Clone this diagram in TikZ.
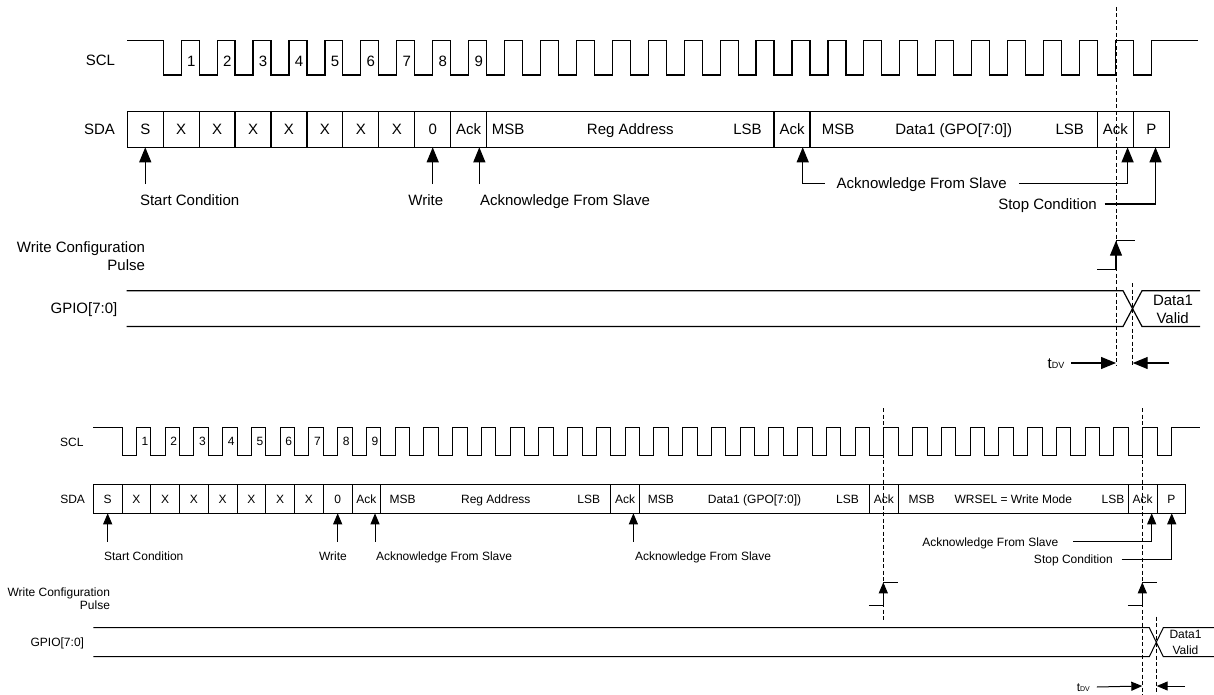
\documentclass[tikz,border=0pt]{standalone}
\usepackage{fontspec}
\setmainfont{Liberation Sans}
\usetikzlibrary{arrows.meta,positioning}

\tikzset{
  toptxt/.style={font=\fontsize{15}{17}\selectfont, inner sep=0pt, outer sep=0pt, text height=10.7pt, text depth=0pt},
  bottxt/.style={font=\fontsize{12}{14}\selectfont, inner sep=0pt, outer sep=0pt, text height=8.6pt, text depth=0pt},
  twave/.style={line width=1.2pt},
  bwave/.style={line width=1pt},
  tcell/.style={toptxt, draw, line width=1.2pt, minimum width=35.93pt, minimum height=35.6pt},
  bcell/.style={bottxt, draw, line width=1pt, minimum width=28.75pt, minimum height=29pt},
  tarr/.style={twave, -{Triangle[length=15pt,width=12pt]}},
  barr/.style={bwave, -{Triangle[length=11pt,width=9pt]}},
  vmark/.style={line width=1pt, dash pattern=on 4pt off 2.5pt},
}

\begin{document}
\begin{tikzpicture}[x=1pt, y=-1pt]
    \useasboundingbox (0,0) rectangle (1214,695);
    \def\xa{127.3} \def\pa{35.93}
    \def\xb{93.3} \def\pb{28.75}

    % ---------- upper diagram ----------
    \node[toptxt, anchor=east] (tscl) at (115,60.5) {SCL};
    \node[toptxt, anchor=east] (tsda) at (115,129.5) {SDA};
    \draw[twave] (\xa,40.5) -- ({\xa+\pa},40.5)
      foreach \k in {1,...,27}{ -- ({\xa+\k*\pa},75) -- ({\xa+(\k+0.5)*\pa},75)
        -- ({\xa+(\k+0.5)*\pa},40.5) -- ({\xa+(\k+1)*\pa},40.5) }
      -- ({\xa+28*\pa},75) -- ({\xa+28.5*\pa},75) -- ({\xa+28.5*\pa},40.5) -- (1198,40.5);
    \foreach \k in {1,...,9}
      \node[toptxt] (tn\k) at ({\xa+(\k+0.78)*\pa},61) {\k};

    \node[tcell] (tS) at ({\xa+0.5*\pa},129.5) {S};
    \foreach \i in {1,...,7}
      \node[tcell] (tX\i) at ({\xa+(\i+0.5)*\pa},129.5) {X};
    \node[tcell] (tW) at ({\xa+8.5*\pa},129.5) {0};
    \node[tcell] (tA1) at ({\xa+9.5*\pa},129.5) {Ack};
    \node[tcell, minimum width=287.44pt] (tReg) at ({\xa+14*\pa},129.5) {Reg Address};
    \node[tcell] (tA2) at ({\xa+18.5*\pa},129.5) {Ack};
    \node[tcell, minimum width=287.44pt] (tData) at ({\xa+23*\pa},129.5) {Data1 (GPO[7:0])};
    \node[tcell] (tA3) at ({\xa+27.5*\pa},129.5) {Ack};
    \node[tcell] (tP) at ({\xa+28.5*\pa},129.5) {P};
    \node[toptxt] (tRegM) at (508,129.5) {MSB};
    \node[toptxt] (tRegL) at (747.5,129.5) {LSB};
    \node[toptxt] (tDatM) at (838,129.5) {MSB};
    \node[toptxt] (tDatL) at (1069.7,129.5) {LSB};

    \coordinate (tA1p) at ([xshift=10.7pt]tA1.south);
    \coordinate (tA2p) at ([xshift=10.7pt]tA2.south);
    \coordinate (tA3p) at ([xshift=12.2pt]tA3.south);
    \coordinate (tPp) at ([xshift=4.2pt]tP.south);
    \node[toptxt, anchor=west, outer ysep=11pt] (tStart) at (140,200.5) {Start Condition};
    \node[toptxt, outer ysep=11pt] (tWrite) at (425.8,200.5) {Write};
    \node[toptxt, anchor=west, outer ysep=11pt] (tAck1) at (480,200.5) {Acknowledge From Slave};
    \node[toptxt, outer xsep=12pt] (tAck2) at (921.7,183.3) {Acknowledge From Slave};
    \node[toptxt, anchor=east, outer xsep=8pt] (tStop) at (1104.7,204) {Stop Condition};
    \draw[tarr] (tS |- tStart.north) -- (tS.south);
    \draw[tarr] (tW |- tWrite.north) -- (tW.south);
    \draw[tarr] (tA1p |- tAck1.north) -- (tA1p);
    \draw[tarr] (tAck2.west) -| (tA2p);
    \draw[tarr] (tAck2.east) -| (tA3p);
    \draw[tarr] (tStop.east) -| (tPp);

    \node[toptxt, anchor=east] (twcp) at (145,246.7) {Write Configuration};
    \node[toptxt, anchor=east] (twcp2) at (145,265) {Pulse};
    \draw[twave] (1097.3,269.3) -- (1116,269.3);
    \draw[tarr] (1116,269.3) -- (1116,240.7);
    \draw[twave] (1116,240.7) -- (1135,240.7);

    \node[toptxt, anchor=east] (tgpio) at (117.3,308.5) {GPIO[7:0]};
    \draw[twave] (126.7,290.7) -- (1123,290.7) -- (1142,326.5) -- (1200,326.5);
    \draw[twave] (126.7,326.5) -- (1123,326.5) -- (1142,290.7) -- (1200,290.7);
    \node[toptxt] (tval1) at (1173,300) {Data1};
    \node[toptxt] (tval2) at (1172.7,317.7) {Valid};

    \draw[vmark] (1116,7) -- (1116,365);
    \draw[vmark] (1132.7,283) -- (1132.7,365);
    \node[toptxt, outer xsep=7pt] (tdv) at (1056,363) {t{\fontsize{9}{9}\selectfont DV}};
    \coordinate (tdvR) at (1169.3,363);
    \draw[tarr] (tdv.east) -- (1116,363);
    \draw[tarr] (tdvR) -- (1132.7,363);

    % ---------- lower diagram ----------
    \node[bottxt, anchor=east] (bscl) at (83.5,441.7) {SCL};
    \node[bottxt, anchor=east] (bsda) at (85,498.8) {SDA};
    \draw[bwave] (\xb,427.3) -- ({\xb+\pb},427.3)
      foreach \k in {1,...,36}{ -- ({\xb+\k*\pb},455.7) -- ({\xb+(\k+0.5)*\pb},455.7)
        -- ({\xb+(\k+0.5)*\pb},427.3) -- ({\xb+(\k+1)*\pb},427.3) }
      -- ({\xb+37*\pb},455.7) -- ({\xb+37.5*\pb},455.7) -- ({\xb+37.5*\pb},427.3) -- (1200,427.3);
    \foreach \k in {1,...,9}
      \node[bottxt] (bn\k) at ({\xb+(\k+0.8)*\pb},441) {\k};

    \node[bcell] (bS) at ({\xb+0.5*\pb},498.8) {S};
    \foreach \i in {1,...,7}
      \node[bcell] (bX\i) at ({\xb+(\i+0.5)*\pb},498.8) {X};
    \node[bcell] (bW) at ({\xb+8.5*\pb},498.8) {0};
    \node[bcell] (bA1) at ({\xb+9.5*\pb},498.8) {Ack};
    \node[bcell, minimum width=230pt] (bReg) at ({\xb+14*\pb},498.8) {Reg Address};
    \node[bcell] (bA2) at ({\xb+18.5*\pb},498.8) {Ack};
    \node[bcell, minimum width=230pt] (bData) at ({\xb+23*\pb},498.8) {Data1 (GPO[7:0])};
    \node[bcell] (bA3) at ({\xb+27.5*\pb},498.8) {Ack};
    \node[bcell, minimum width=230pt] (bSel) at ({\xb+32*\pb},498.8) {WRSEL = Write Mode};
    \node[bcell] (bA4) at ({\xb+36.5*\pb},498.8) {Ack};
    \node[bcell] (bP) at ({\xb+37.5*\pb},498.8) {P};
    \node[bottxt] (bRegM) at (402.7,498.8) {MSB};
    \node[bottxt] (bRegL) at (588.7,498.8) {LSB};
    \node[bottxt] (bDatM) at (660.8,498.8) {MSB};
    \node[bottxt] (bDatL) at (847.5,498.8) {LSB};
    \node[bottxt] (bSelM) at (921.7,498.8) {MSB};
    \node[bottxt] (bSelL) at (1113,498.8) {LSB};

    \coordinate (bA1p) at ([xshift=8.6pt]bA1.south);
    \coordinate (bA2p) at ([xshift=8.2pt]bA2.south);
    \coordinate (bA4p) at ([xshift=9pt]bA4.south);
    \coordinate (bPp) at ([xshift=0.3pt]bP.south);
    \node[bottxt, anchor=west, outer ysep=9.7pt] (bStart) at (104,555.7) {Start Condition};
    \node[bottxt, outer ysep=9.7pt] (bWrite) at (333,555.7) {Write};
    \node[bottxt, anchor=west, outer ysep=9.7pt] (bAck1) at (376,555.7) {Acknowledge From Slave};
    \node[bottxt, anchor=west, outer ysep=9.7pt] (bAck2) at (635,555.7) {Acknowledge From Slave};
    \node[bottxt, anchor=east, outer xsep=15pt] (bAck3) at (1073.3,541.7) {Acknowledge From Slave};
    \node[bottxt, anchor=east, outer xsep=9pt] (bStop) at (1121.7,559.3) {Stop Condition};
    \draw[barr] (bS |- bStart.north) -- (bS.south);
    \draw[barr] (bW |- bWrite.north) -- (bW.south);
    \draw[barr] (bA1p |- bAck1.north) -- (bA1p);
    \draw[barr] (bA2p |- bAck2.north) -- (bA2p);
    \draw[barr] (bAck3.east) -| (bA4p);
    \draw[barr] (bStop.east) -| (bPp);

    \node[bottxt, anchor=east] (bwcp) at (110,591.7) {Write Configuration};
    \node[bottxt, anchor=east] (bwcp2) at (110,605) {Pulse};
    \foreach \x in {883.3,1142.3}{
      \draw[bwave] (\x-14.5,605) -- (\x,605);
      \draw[barr] (\x,605) -- (\x,582.3);
      \draw[bwave] (\x,582.3) -- (\x+15,582.3);
    }

    \node[bottxt, anchor=east] (bgpio) at (84,641.7) {GPIO[7:0]};
    \draw[bwave] (93.3,627.7) -- (1149.3,627.7) -- (1163.3,656.7) -- (1214,656.7);
    \draw[bwave] (93.3,656.7) -- (1149.3,656.7) -- (1163.3,627.7) -- (1214,627.7);
    \node[bottxt] (bval1) at (1185.5,634.3) {Data1};
    \node[bottxt] (bval2) at (1185.5,650) {Valid};

    \draw[vmark] (883.3,408) -- (883.3,621.7);
    \draw[vmark] (1142.3,408) -- (1142.3,695);
    \draw[vmark] (1156.7,616.7) -- (1156.7,695);
    \node[bottxt, outer xsep=7pt] (bdv) at (1083.3,687) {t{\fontsize{7}{7}\selectfont DV}};
    \coordinate (bdvR) at (1185,686);
    \draw[barr] (bdv.east) -- (1142.3,686);
    \draw[barr] (bdvR) -- (1156.7,686);
\end{tikzpicture}
\end{document}
